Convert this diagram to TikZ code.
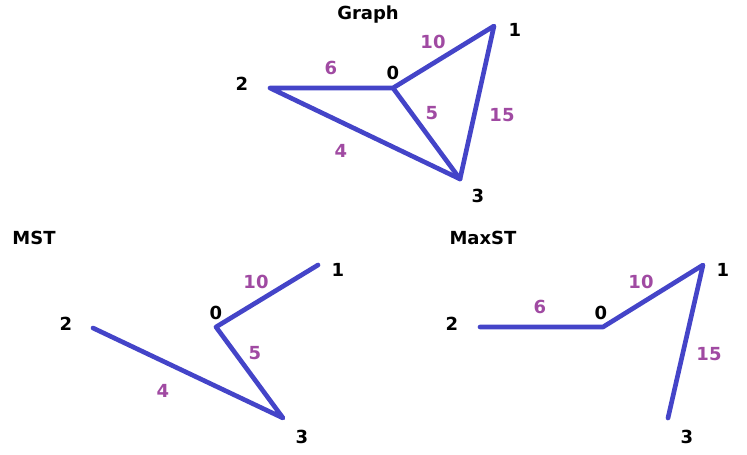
\documentclass[tikz,border=0pt]{standalone}
\usepackage{fontspec}
\setmainfont{DejaVu Sans}
\usepackage{xcolor}
\definecolor{edgeblue}{HTML}{4444C8}
\definecolor{wtpurple}{HTML}{A04AA2}
\definecolor{txt}{HTML}{000000}

\begin{document}
\begin{tikzpicture}[
  x=0.75pt, y=-0.75pt,
  edge/.style={line width=3.5pt, color=edgeblue, line cap=round, line join=round},
  vlab/.style={font=\fontsize{13.5}{16}\selectfont\bfseries, text=txt, inner sep=0pt},
  wlab/.style={font=\fontsize{13.5}{16}\selectfont\bfseries, text=wtpurple, inner sep=0pt},
  title/.style={font=\fontsize{13.5}{16}\selectfont\bfseries, text=txt, inner sep=0pt},
]
\useasboundingbox (0,0) rectangle (747,454);

% Graph
\node[title] (gtitle) at (368, 15) {Graph};
\coordinate (g0) at (393, 88);
\coordinate (g1) at (494, 26);
\coordinate (g2) at (270, 88);
\coordinate (g3) at (460, 179);
\node[vlab] (g0l) at (393, 73) {0};
\node[vlab] (g1l) at (515, 30) {1};
\node[vlab] (g2l) at (242, 84) {2};
\node[vlab] (g3l) at (478, 196) {3};
\draw[edge] (g2) -- (g0) -- (g1) -- (g3) -- (g2);
\draw[edge] (g0) -- (g3);
\node[wlab] (gw01) at (433, 42) {10};
\node[wlab] (gw02) at (331, 68) {6};
\node[wlab] (gw03) at (432, 113) {5};
\node[wlab] (gw13) at (502, 115) {15};
\node[wlab] (gw23) at (341, 151) {4};

% MST
\node[title] (mtitle) at (34, 238) {MST};
\coordinate (m0) at (216, 327);
\coordinate (m1) at (318, 265);
\coordinate (m2) at (93, 328);
\coordinate (m3) at (283, 418);
\node[vlab] (m0l) at (216, 313) {0};
\node[vlab] (m1l) at (338, 270) {1};
\node[vlab] (m2l) at (66, 324) {2};
\node[vlab] (m3l) at (302, 437) {3};
\draw[edge] (m1) -- (m0) -- (m3) -- (m2);
\node[wlab] (mw01) at (256, 282) {10};
\node[wlab] (mw03) at (255, 353) {5};
\node[wlab] (mw23) at (163, 391) {4};

% MaxST
\node[title] (xtitle) at (483, 238) {MaxST};
\coordinate (x0) at (603, 327);
\coordinate (x1) at (703, 265);
\coordinate (x2) at (480, 327);
\coordinate (x3) at (668, 418);
\node[vlab] (x0l) at (601, 313) {0};
\node[vlab] (x1l) at (723, 270) {1};
\node[vlab] (x2l) at (452, 324) {2};
\node[vlab] (x3l) at (687, 437) {3};
\draw[edge] (x2) -- (x0) -- (x1) -- (x3);
\node[wlab] (xw01) at (641, 282) {10};
\node[wlab] (xw02) at (540, 307) {6};
\node[wlab] (xw13) at (709, 354) {15};

\end{tikzpicture}
\end{document}
